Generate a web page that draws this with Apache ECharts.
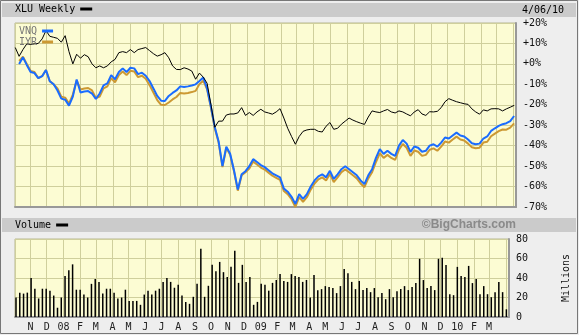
<!DOCTYPE html>
<html>
<head>
<meta charset="utf-8">
<script src="https://cdn.jsdelivr.net/npm/echarts@6/dist/echarts.min.js"></script>
<style>html,body{margin:0;padding:0;background:#eeeeee;}#c{width:579px;height:335px;}</style>
</head>
<body>
<div id="c"></div>
<script>
// Weekly closes, Fridays, first week 2007-10-05, last 2010-04-02 (percent change)
const firstWeek = Date.UTC(2007, 9, 5);
const xlu = [8,3.7,7,9.8,9.5,9.8,10,12.2,16.3,13.5,13,12.5,10.6,13.8,6,0,4.7,2.8,4.5,3.5,0,-1.9,-1,-1.9,-1,1,2.2,5.5,6,5.5,7,5.5,7,7.5,8,6.5,5,3.8,4.5,5.5,3,-1,-2.7,-2.8,-1.9,-2.5,-3.5,-7.5,-4.5,-6.5,-9.5,-20,-31,-28,-28,-25,-24.5,-24.5,-24,-21.4,-25.2,-23.8,-25.2,-23.5,-22.2,-23.5,-24,-24.6,-23.5,-21.9,-26.5,-31.5,-35.5,-39.3,-35.5,-33,-32.3,-32,-32,-33,-33.3,-30.5,-28.7,-32,-31.5,-29.5,-28,-26.5,-27.5,-28.3,-29,-29.6,-26,-23,-23.5,-23.8,-23,-22.3,-23.5,-24,-23,-23.5,-24.5,-25.4,-23.5,-22.4,-24.5,-25.2,-23.4,-23.5,-23.2,-21.4,-18.5,-17,-17.8,-18.5,-19,-19.5,-19.8,-22,-23.5,-24.6,-22.5,-23,-22,-21.9,-22,-23,-22,-21.2,-20.3];
const vnq = [null,0,3.2,-0.5,-4,-4.5,-7,-6,-3,-8.5,-10,-13,-17,-17.5,-20.4,-16,-7.6,-14,-13.5,-13.3,-14.5,-17.2,-14.5,-10.5,-9.5,-5.5,-7.5,-4,-2.2,-4,-1.9,-2.2,-5,-4.3,-5.8,-8.4,-12,-15.7,-18,-18.1,-15.7,-14.2,-13,-11,-11.3,-11,-10.6,-10,-8.4,-6.7,-12,-21,-31,-38,-50,-40.5,-44,-52,-61.5,-54,-52.5,-50,-46.6,-48,-49.5,-50.5,-52,-53.5,-54.5,-55.5,-61,-62.5,-65,-68.5,-63.7,-66,-63.7,-60,-57,-55,-54,-55.5,-52.3,-56.3,-54,-51.5,-50.1,-51.5,-53,-54.5,-57,-58.8,-54.5,-51.5,-46,-41.7,-44,-42.5,-44,-45,-40,-37.2,-39,-43,-40.4,-41,-43,-42.5,-40,-39.3,-40.5,-38.5,-36,-36.5,-35,-33.6,-35,-35.5,-37,-38.8,-39.3,-39,-36.5,-35.5,-32.8,-31.5,-30.3,-29.5,-29,-28,-25.5];
const iyr = [null,1.5,3.5,0,-3.5,-4,-7,-6,-3,-8.5,-10,-12,-16,-16.5,-19.4,-15,-8.1,-12.5,-12,-11.8,-13,-16.7,-16,-12,-11,-7,-9,-5.5,-3.7,-5.5,-3.4,-3.7,-6.5,-5.8,-7.3,-10.4,-14,-17.7,-20,-20.1,-18.9,-17.4,-16.2,-14.2,-14.5,-14.2,-13.8,-13.2,-9.9,-8.2,-12.5,-21.5,-31.5,-38.5,-50.5,-41,-44.5,-52.5,-62,-54.5,-53,-51.2,-47.8,-49.2,-50.7,-51.7,-53.2,-54.7,-55.7,-56.7,-62.2,-63.7,-66.2,-70,-65.2,-67.5,-65.2,-61.5,-58.5,-56.5,-55.5,-57,-53.8,-57.8,-55.5,-53,-51.6,-53,-54.5,-56,-58.5,-60.3,-56,-53,-48,-43.7,-46,-44.5,-46,-47,-42,-39.2,-41,-45,-42.4,-43,-45,-44.5,-42,-41.3,-42.5,-40.5,-38,-38.5,-37,-35.6,-37,-37.5,-39,-40.8,-41.3,-41,-38.5,-38.1,-35.4,-34.1,-32.9,-32.1,-32.2,-31.2,-29.1];
const volume = [20,25,24,25,40,29,19,29,29,27,22,9.5,20,42,48,54,28,28,23,20,34,39,36,24,29,29,25,19,20,28,16.5,16.5,16.5,12.5,23,27,23,27,29,36,40,36,30,33,22,15.5,13.5,20.7,34,70,20.7,32,53.5,47,56.5,46,41,51.5,68,35,53.5,36,41,12.5,15.5,34,33,27,35,38,44,37,36,44,42,41,36,38,20,43,27.5,28.6,31.7,30.7,29.7,24.5,31.7,49.3,45,36,28.6,37,27.6,29.7,25.5,29.7,20.3,24.5,18.3,28.6,20.3,26.5,28.6,31.7,27.6,30.7,34.8,59.7,37.9,29.7,31.7,27.6,59.7,60.7,53.4,23.4,22.4,51.4,42,41,52.4,34.8,39,23.4,31.7,23.4,20.3,25.5,35.9,25.5,7.9];
const monthLetters = ['J','F','M','A','M','J','J','A','S','O','N','D'];
const pctTicks = {min: -70, max: 20, interval: 10};
const volTicks = {min: 0, max: 80, interval: 20};
const chartDate = '4/06/10';

const DAY = 86400000;
const weeks = volume.map((_, i) => firstWeek + i * 7 * DAY);
const pair = arr => weeks.map((t, i) => [t, arr[i]]);

const FONT = 'DejaVu Sans Mono';
const gridLine = {color: '#cfcf9c', width: 1};
const xMin = Date.UTC(2007, 9, 4, 12), xMax = Date.UTC(2010, 3, 5, 12);

function monthLabel(v) {
  if (xMax - v < 10 * DAY) return '';
  const d = new Date(v);
  const m = d.getUTCMonth();
  if (m === 0) return String(d.getUTCFullYear() % 100).padStart(2, '0');
  return monthLetters[m];
}

const xBase = {
  type: 'time', min: xMin, max: xMax, splitNumber: 30,
  minInterval: 28 * DAY, maxInterval: 31 * DAY,
  axisLine: {show: true, onZero: false, lineStyle: {color: '#999', width: 2}},
  axisTick: {show: false},
  splitLine: {show: true, lineStyle: gridLine}
};

const legendBase = {padding: 0, icon: 'rect', itemWidth: 12, itemHeight: 3, align: 'right', selectedMode: false, z: 10};
const legendText = {fontFamily: FONT, fontSize: 10, color: '#000'};
const plotLegendText = {fontFamily: FONT, fontSize: 10, color: '#777'};

const chart = echarts.init(document.getElementById('c'));
chart.setOption({
  animation: false,
  useUTC: true,
  backgroundColor: '#eeeeee',
  textStyle: {fontFamily: FONT},
  grid: [
    {left: 15, top: 23, width: 501, height: 184, show: true, backgroundColor: '#fcfcd3', borderColor: '#b8b890', borderWidth: 1},
    {left: 15, top: 239, width: 501, height: 78, show: true, backgroundColor: '#fcfcd3', borderColor: '#b8b890', borderWidth: 1}
  ],
  xAxis: [
    Object.assign({}, xBase, {gridIndex: 0, axisLabel: {show: false}}),
    Object.assign({}, xBase, {gridIndex: 1, axisLabel: {show: true, formatter: monthLabel, fontFamily: FONT, fontSize: 10, color: '#222', margin: 5, hideOverlap: false}})
  ],
  yAxis: [
    {type: 'value', gridIndex: 0, position: 'right', min: pctTicks.min, max: pctTicks.max, interval: pctTicks.interval,
     axisLine: {show: true, lineStyle: {color: '#999', width: 2}}, axisTick: {show: false},
     splitLine: {show: true, lineStyle: gridLine},
     axisLabel: {fontFamily: FONT, fontSize: 10, color: '#111', margin: 7,
       formatter: v => (v >= 0 ? '+' : '') + v + '%'}},
    {type: 'value', gridIndex: 1, position: 'right', min: volTicks.min, max: volTicks.max, interval: volTicks.interval,
     axisLine: {show: true, lineStyle: {color: '#999', width: 2}}, axisTick: {show: false},
     splitLine: {show: true, lineStyle: gridLine},
     axisLabel: {fontFamily: FONT, fontSize: 10, color: '#111', margin: 7},
     name: 'Millions', nameLocation: 'middle', nameRotate: 90, nameGap: 52,
     nameTextStyle: {fontFamily: FONT, fontSize: 10, color: '#111'}}
  ],
  legend: [
    Object.assign({}, legendBase, {data: ['XLU'], left: 15, top: 4, formatter: () => 'XLU Weekly', textStyle: legendText}),
    Object.assign({}, legendBase, {data: ['VNQ'], left: 19, top: 26, itemWidth: 11, textStyle: plotLegendText}),
    Object.assign({}, legendBase, {data: ['IYR'], left: 19, top: 37, itemWidth: 11, textStyle: plotLegendText}),
    Object.assign({}, legendBase, {data: ['Volume'], left: 15, top: 220, textStyle: legendText})
  ],
  graphic: [
    {type: 'rect', z: 0, shape: {x: 2, y: 3, width: 574, height: 14}, style: {fill: '#cbcbcb'}},
    {type: 'rect', z: 0, shape: {x: 2, y: 218, width: 574, height: 14}, style: {fill: '#cbcbcb'}},
    {type: 'text', z: 5, x: 522, y: 10, style: {text: chartDate, font: '10px ' + FONT, fill: '#000', textVerticalAlign: 'middle'}},
    {type: 'text', z: 5, x: 516, y: 225, style: {text: '©BigCharts.com', font: 'bold 12px "Liberation Sans"', fill: '#8a8a8a', textAlign: 'right', textVerticalAlign: 'middle'}},
    {type: 'rect', z: 20, shape: {x: 0.5, y: 0.5, width: 577, height: 333}, style: {fill: 'none', stroke: '#777', lineWidth: 1}}
  ],
  series: [
    {name: 'IYR', type: 'line', xAxisIndex: 0, yAxisIndex: 0, data: pair(iyr), showSymbol: false, symbol: 'none',
     lineStyle: {color: '#cc9933', width: 2}, itemStyle: {color: '#cc9933'}, z: 2},
    {name: 'VNQ', type: 'line', xAxisIndex: 0, yAxisIndex: 0, data: pair(vnq), showSymbol: false, symbol: 'none',
     lineStyle: {color: '#1a6cff', width: 2}, itemStyle: {color: '#1a6cff'}, z: 3},
    {name: 'XLU', type: 'line', xAxisIndex: 0, yAxisIndex: 0, data: pair(xlu), showSymbol: false, symbol: 'none',
     lineStyle: {color: '#000', width: 1}, itemStyle: {color: '#000'}, z: 4},
    {name: 'Volume', type: 'bar', xAxisIndex: 1, yAxisIndex: 1, data: pair(volume), barWidth: 1.5,
     itemStyle: {color: '#000'}}
  ]
});
</script>
</body>
</html>
